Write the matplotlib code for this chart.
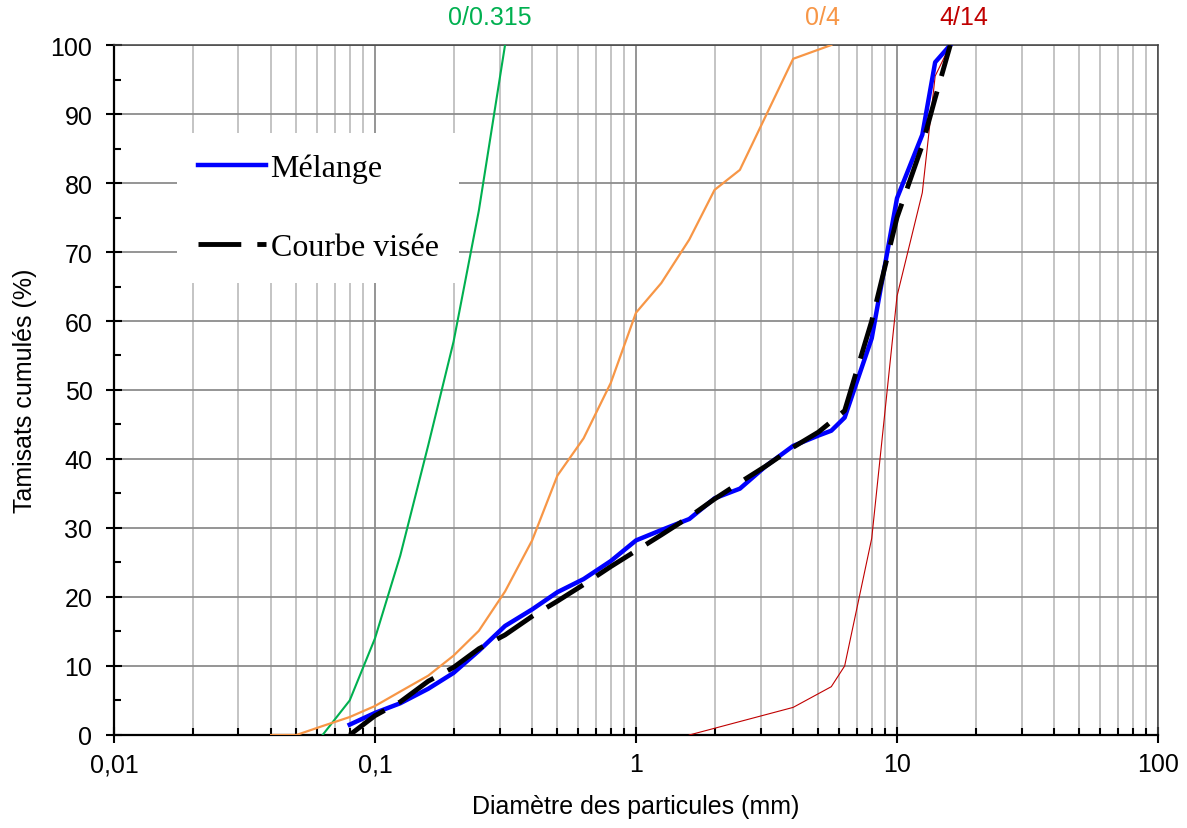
import numpy as np
import matplotlib.pyplot as plt
from matplotlib.ticker import FixedLocator, FixedFormatter, NullFormatter

plt.rcParams['font.family'] = ['Liberation Sans', 'DejaVu Sans']

# --- DATA ---
d_fine = [0.063, 0.08, 0.1, 0.125, 0.16, 0.2, 0.25, 0.315]
p_fine = [0, 5, 14, 26, 42, 57, 76, 100]

d_sand = [0.04, 0.05, 0.063, 0.08, 0.1, 0.125, 0.16, 0.2, 0.25, 0.315, 0.4, 0.5,
          0.63, 0.8, 1, 1.25, 1.6, 2, 2.5, 4, 5.6]
p_sand = [0, 0, 1.3, 2.6, 4.2, 6.3, 8.6, 11.5, 15.1, 20.8, 28.2, 37.6,
          43, 51, 61.2, 65.5, 71.8, 79, 81.9, 98, 100]

d_grav = [1.6, 4, 5.6, 6.3, 8, 10, 12.5, 14, 16]
p_grav = [0, 4, 7, 10, 28.5, 63.6, 78.6, 95.5, 100]

d_mix = [0.08, 0.1, 0.125, 0.16, 0.2, 0.25, 0.315, 0.4, 0.5, 0.63, 0.8, 1, 1.25,
         1.6, 2, 2.5, 3.15, 4, 5, 5.6, 6.3, 8, 10, 12.5, 14, 16]
p_mix = [1.5, 3.2, 4.6, 6.7, 9, 12.2, 15.8, 18.2, 20.7, 22.6, 25.2, 28.2, 29.7,
         31.3, 34.3, 35.7, 39, 41.9, 43.4, 44.1, 46, 57.5, 77.8, 87, 97.5, 100]

d_target = [0.08, 0.1, 0.125, 0.16, 0.2, 0.25, 0.315, 0.4, 0.5, 0.63, 0.8, 1, 1.25,
            1.6, 2, 2.5, 3.15, 4, 5, 6.3, 8, 10, 12.5, 14, 16]
p_target = [0, 2.8, 4.8, 7.8, 9.8, 12.5, 14.5, 17.2, 19.4, 21.8, 24.4, 26.7, 29,
            31.6, 34.2, 36.6, 39, 41.7, 43.9, 47, 60, 75, 85.5, 92.3, 100]

x_ticks = [0.01, 0.1, 1, 10, 100]
x_ticklabels = ["0,01", "0,1", "1", "10", "100"]

GREEN = '#00B050'
ORANGE = '#F79646'
RED = '#C00000'

fig = plt.figure(figsize=(11.87, 8.29), dpi=100)
ax = fig.add_axes([0.096, 0.1122, 0.8796, 0.8323])

ax.set_xscale('log')
ax.set_xlim(0.01, 100)
ax.set_ylim(0, 100)

# grid
minor_x = [m * 10.0**e for e in range(-2, 2) for m in range(2, 10)]
ax.xaxis.set_major_locator(FixedLocator(x_ticks))
ax.xaxis.set_major_formatter(FixedFormatter(x_ticklabels))
ax.xaxis.set_minor_locator(FixedLocator(minor_x))
ax.xaxis.set_minor_formatter(NullFormatter())
ax.yaxis.set_major_locator(FixedLocator(np.arange(0, 101, 10)))
ax.yaxis.set_minor_locator(FixedLocator(np.arange(5, 100, 10)))

ax.grid(True, which='major', axis='both', color='#8C8C8C', lw=1.3, zorder=0)
ax.grid(True, which='minor', axis='x', color='#BFBFBF', lw=1.3, zorder=0)
ax.set_axisbelow(True)

ax.tick_params(which='major', direction='inout', length=11, width=1.5,
               labelsize=18, color='black')
ax.tick_params(axis='y', which='major', pad=10)
ax.tick_params(axis='x', which='major', pad=7)
ax.tick_params(which='minor', direction='in', length=5, width=1.5, color='black')

for s in ['left', 'bottom']:
    ax.spines[s].set_color('black')
    ax.spines[s].set_linewidth(1.6)
for s in ['top', 'right']:
    ax.spines[s].set_color('#404040')
    ax.spines[s].set_linewidth(1.1)

# curves
ax.plot(d_fine, p_fine, color=GREEN, lw=1.5, zorder=3)
ax.plot(d_sand, p_sand, color=ORANGE, lw=1.6, zorder=3)
ax.plot(d_grav, p_grav, color=RED, lw=0.8, zorder=3)
ax.plot(d_mix, p_mix, color='#0000FF', lw=3.2, zorder=4, label='Mélange')
ax.plot(d_target, p_target, color='black', lw=3.5, dashes=(8.8, 3.3), zorder=5,
        label='Courbe visée')

# labels above the frame
ax.text(0.276, 104.1, "0/0.315", color=GREEN, fontsize=18, ha='center', va='center', clip_on=False)
ax.text(5.16, 104.1, "0/4", color=ORANGE, fontsize=18, ha='center', va='center', clip_on=False)
ax.text(18.06, 104.1, "4/14", color=RED, fontsize=18, ha='center', va='center', clip_on=False)

ax.set_xlabel("Diamètre des particules (mm)", fontsize=18, labelpad=13)
ax.set_ylabel("Tamisats cumulés (%)", fontsize=18, labelpad=10)

leg = ax.legend(loc='upper left', bbox_to_anchor=(0.0603, 0.8725), frameon=True,
                prop={'family': 'Liberation Serif', 'size': 23},
                handlelength=2.13, handletextpad=0.15, labelspacing=1.55,
                borderpad=0.65, borderaxespad=0, fancybox=False)
leg.get_frame().set_facecolor('white')
leg.get_frame().set_edgecolor('none')
leg.get_frame().set_alpha(1)
leg.set_zorder(10)

plt.savefig("out.png", dpi=100)
